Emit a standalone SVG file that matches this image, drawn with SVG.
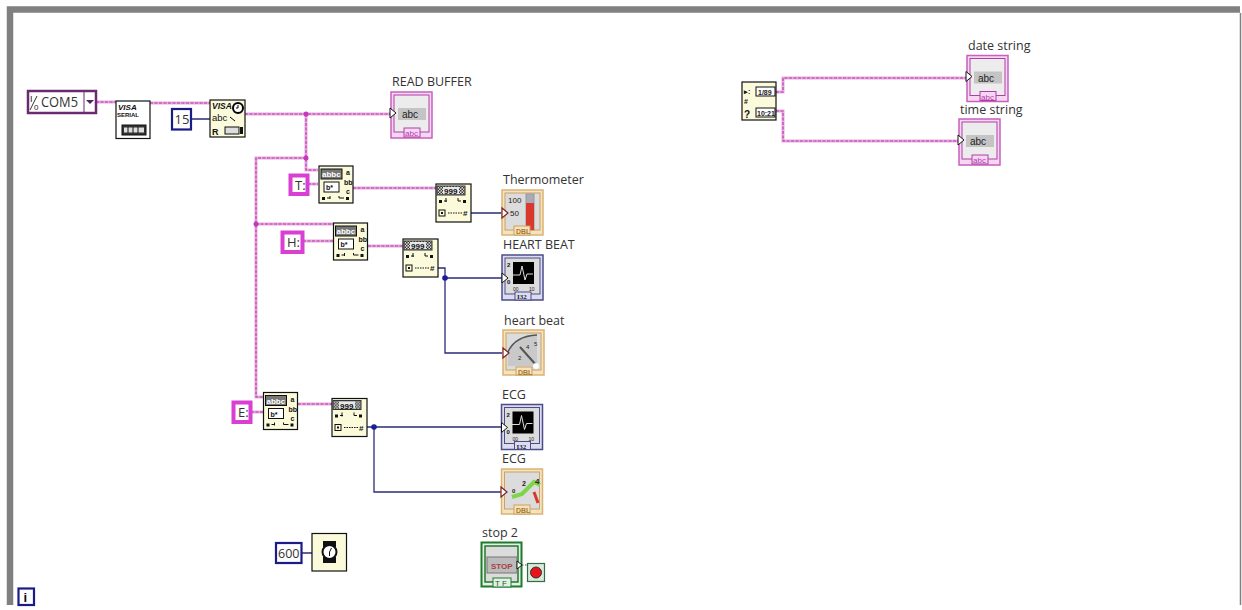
<svg xmlns="http://www.w3.org/2000/svg" width="1242" height="610" viewBox="0 0 1242 610">
<style>
text{font-family:"Liberation Sans",Arial,sans-serif;fill:#222}
.lbl{font-size:12.5px;font-family:"Open Sans","Liberation Sans",sans-serif;fill:#333}
.const{font-size:13px;font-family:"Open Sans","Liberation Sans",sans-serif;fill:#333}
.w{fill:none;stroke:#e9a6e2;stroke-width:3}
.wd{fill:none;stroke:#b03fa4;stroke-width:1.1;stroke-dasharray:3 1.5}
.n{fill:none;stroke:#2b2b78;stroke-width:1.3}
.ic{fill:#fbfbdc;stroke:#111;stroke-width:1.2}
.t6{font-size:6px;font-weight:bold;fill:#111}
.t7{font-size:7px;font-weight:bold;fill:#111}
.t8{font-size:8px;fill:#111}
.dark{fill:#111}
.pk{fill:#fff;stroke:#d93fd2;stroke-width:4}
.nv{fill:#fff;stroke:#1c1c88;stroke-width:2.2}
</style>
<defs>
<pattern id="chk" width="3" height="3" patternUnits="userSpaceOnUse"><rect width="3" height="3" fill="#ddd"/><rect width="1.500" height="1.500" fill="#333"/><rect x="1.500" y="1.500" width="1.500" height="1.500" fill="#333"/></pattern>
<g id="match">
<rect class="ic" x="0" y="0" width="34" height="37"/>
<rect x="2" y="3" width="21" height="10" fill="#777" stroke="#111"/>
<text class="t8" x="3" y="11" style="fill:#fff;font-weight:bold">abbc</text>
<rect x="5" y="16" width="15" height="10" fill="#fff" stroke="#111"/>
<text class="t7" x="7" y="24">b*</text>
<text class="t7" x="27" y="9">a</text><text class="t7" x="25" y="19">bb</text><text class="t7" x="27" y="28">c</text>
<rect class="dark" x="3" y="31" width="3" height="3"/><rect class="dark" x="27" y="31" width="3" height="3"/>
<path d="M8 32h3M11 30v3M20 30v2h5" fill="none" stroke="#111"/>
</g>
<g id="scan">
<rect class="ic" x="0" y="0" width="35" height="38"/>
<rect x="1" y="2" width="28" height="9" fill="url(#chk)" stroke="#333"/>
<rect x="7" y="3" width="16" height="7" fill="#e8e8e8"/>
<text class="t8" x="8" y="10" style="font-weight:bold">999</text>
<rect class="dark" x="3" y="16" width="3" height="3"/><rect class="dark" x="27" y="16" width="3" height="3"/>
<path d="M8 17h3M10 14v4M22 14v3h3" fill="none" stroke="#111"/>
<rect x="3" y="26" width="6" height="6" fill="none" stroke="#111"/><rect class="dark" x="5" y="28" width="2" height="2"/>
<path d="M12 29h14" fill="none" stroke="#111" stroke-dasharray="1.500 1"/>
<text class="t8" x="27" y="32" style="font-weight:bold">#</text>
</g>
<g id="strind">
<rect x="0" y="0" width="41" height="46" fill="#f7d6f3" stroke="#c860bd" stroke-width="1.500"/>
<rect x="3" y="3" width="35" height="37" fill="#ececec" stroke="#b03ea8"/>
<rect x="7" y="16" width="28" height="12" fill="#c4c4c4"/>
<text x="11" y="26" style="font-size:10px;fill:#222">abc</text>
<path d="M-1 16l6 5-6 5z" fill="#fff" stroke="#111"/>
<rect x="13" y="36" width="16" height="9" fill="#f7d6f3" stroke="#b03ea8"/>
<text x="14" y="44" style="font-size:8px;fill:#b03ea8">abc</text>
</g>
<g id="dblframe">
<rect x="0" y="0" width="41" height="45" fill="#f6e2bb" stroke="#d9b377" stroke-width="1.500"/>
<rect x="3" y="3" width="35" height="37" fill="#dcdcdc" stroke="#c8a266"/>
</g>
<g id="chart">
<rect x="0" y="0" width="41" height="45" fill="#dcdcf0" stroke="#4c4c88" stroke-width="1.500"/>
<rect x="3" y="3" width="35" height="36" fill="#dcdcdc" stroke="#4c4c88"/>
<rect x="11" y="7" width="21" height="22" fill="#000"/>
<path d="M8 20h10l2-9 3 14 2-6h6" fill="none" stroke="#ddd"/>
<text x="5" y="12" class="t6">2</text><text x="5" y="29" class="t6">0</text>
<text x="11" y="36" style="font-size:5px">00</text><text x="27" y="36" style="font-size:5px">10</text>
<rect x="13" y="37" width="16" height="8" fill="#dcdcf0" stroke="#4c4c88"/>
<text x="15" y="44" class="t7" style="font-family:'Liberation Serif',serif;fill:#223">I32</text>
<path d="M0 18l6 5-6 5z" fill="#fff" stroke="#111"/>
</g>
</defs>
<rect width="1242" height="610" fill="#fff"/>
<g id="frame">
<path d="M10 605V9.500H1240" fill="none" stroke="#808080" stroke-width="6.500"/>
<path d="M1240.500 13V605" fill="none" stroke="#808080" stroke-width="1.500"/>
</g>
<g id="connectors">
<path class="w" d="M96 102H116M150 103H210M245 114H392M306 114V170H318M306 158H256V397H263M256 224H333M308 184H318M353 188H436M303 241H333M368 246H403M251 412H263M298 404H332M776 92H783V78H967M776 111H783V141H960"/>
<path class="wd" d="M96 102H116M150 103H210M245 114H392M306 114V170H318M306 158H256V397H263M256 224H333M308 184H318M353 188H436M303 241H333M368 246H403M251 412H263M298 404H332M776 92H783V78H967M776 111H783V141H960"/>
<path class="n" d="M191 119H210M471 213H502M438 268H445V353H502M445 278H502M366 427H502M374 427V492H502M302 553H312"/>
<path d="M522 565H527" stroke="#2a6b3a" stroke-dasharray="1.500 1.500" fill="none"/>
<circle cx="306" cy="114" r="2.500" fill="#c838bc"/><circle cx="306" cy="158" r="2.500" fill="#c838bc"/><circle cx="256" cy="224" r="2.500" fill="#c838bc"/>
<circle cx="445" cy="278" r="2.800" fill="#1c1c99"/><circle cx="374" cy="427" r="2.800" fill="#1c1c99"/>
</g>
<g id="com5">
<rect x="28" y="91" width="68" height="22" fill="#fff" stroke="#6b2a70" stroke-width="2.500"/>
<path d="M84 91V113" stroke="#6b2a70"/>
<text x="30" y="102" style="font-size:9px">I</text><text x="34" y="110" style="font-size:8px">0</text>
<path d="M30 110L37 96" stroke="#333"/>
<text class="const" x="41" y="107" style="font-size:14px" textLength="37" lengthAdjust="spacingAndGlyphs">COM5</text>
<path d="M86 100h8l-4 4z" fill="#552060"/>
</g>
<g id="visa-serial">
<rect x="116" y="101" width="34" height="37.500" fill="#fff" stroke="#111" stroke-width="1.200"/>
<text x="118" y="110" style="font-size:8px;font-weight:bold;font-style:italic;fill:#111">VISA</text>
<text x="117" y="117" style="font-size:6px;font-weight:bold;fill:#111">SERIAL</text>
<rect x="122" y="125" width="24" height="10" fill="#333" stroke="#111"/>
<path d="M124 127.500h20v5h-20z" fill="#ddd"/>
<path d="M128 127v6M133 127v6M138 127v6" stroke="#111"/>
</g>
<g id="const-15">
<rect x="172" y="109" width="19" height="20.500" class="nv"/>
<text class="const" x="174.500" y="124">15</text>
</g>
<g id="visa-read">
<rect class="ic" x="210" y="100" width="35" height="37"/>
<text x="212" y="109" style="font-size:8.500px;font-weight:bold;font-style:italic;fill:#111">VISA</text>
<text x="212" y="121" style="font-size:9.500px;fill:#111">abc</text>
<text x="212" y="135" style="font-size:9px;font-weight:bold;fill:#111">R</text>
<circle cx="238" cy="108" r="5" fill="#fff" stroke="#000" stroke-width="2"/>
<path d="M238 105v3h-2M230 117l5 4" stroke="#000" fill="none"/>
<rect x="225" y="127" width="14" height="7" fill="#ddd" stroke="#111"/>
<rect x="240" y="127" width="3" height="7" fill="#111"/>
</g>
<g id="read-buffer">
<text class="lbl" x="392" y="86">READ BUFFER</text>
<use href="#strind" x="391" y="92"/>
</g>
<g id="const-t">
<rect x="290.500" y="175.500" width="17" height="18.500" class="pk"/>
<text class="const" x="295" y="190">T:</text>
</g>
<use id="match-t" href="#match" x="319" y="166"/>
<use id="scan-t" href="#scan" x="436" y="184"/>
<g id="thermometer">
<text class="lbl" x="503" y="184">Thermometer</text>
<use href="#dblframe" x="502" y="190"/>
<text x="508" y="203" style="font-size:8px">100</text><text x="510" y="216" style="font-size:8px">50</text>
<rect x="526" y="194" width="8" height="36" fill="#aab" stroke="#999"/>
<rect x="526" y="203" width="8" height="27" fill="#d8392c"/>
<rect x="514" y="226" width="16" height="9" fill="#f6e2bb" stroke="#c8a266"/>
<text x="516" y="234" style="font-size:7px;fill:#a87a2c;font-weight:bold">DBL</text>
<path d="M502 208l6 5-6 5z" fill="#fff" stroke="#7a2222" stroke-width="1.200"/>
</g>
<g id="const-h">
<rect x="282.500" y="232.500" width="20" height="19.500" class="pk"/>
<text class="const" x="287" y="247">H:</text>
</g>
<use id="match-h" href="#match" x="333.500" y="223"/>
<use id="scan-h" href="#scan" x="403" y="239"/>
<g id="heart-beat-chart">
<text class="lbl" x="503" y="249">HEART BEAT</text>
<use href="#chart" x="502" y="255"/>
</g>
<g id="heart-beat-gauge">
<text class="lbl" x="504" y="325">heart beat</text>
<use href="#dblframe" x="503" y="330"/>
<path d="M508 366V352Q515 336 537 335V366Z" fill="#c9c9c9"/>
<path d="M508 352Q515 336 537 335" fill="none" stroke="#555" stroke-width="1.500"/>
<path d="M520 347L537 366" stroke="#555" stroke-width="2"/>
<circle cx="536" cy="366" r="3" fill="#fff"/>
<text x="518" y="360" style="font-size:6px">2</text><text x="526" y="349" style="font-size:6px">4</text><text x="534" y="346" style="font-size:6px">5</text>
<rect x="516" y="367" width="16" height="8" fill="#f6e2bb" stroke="#c8a266"/>
<text x="518" y="374.500" style="font-size:7px;fill:#a87a2c;font-weight:bold">DBL</text>
<path d="M503 348l6 5-6 5z" fill="#fff" stroke="#7a2222" stroke-width="1.200"/>
</g>
<g id="const-e">
<rect x="233.500" y="402.500" width="17" height="19.500" class="pk"/>
<text class="const" x="238" y="417">E:</text>
</g>
<use id="match-e" href="#match" x="263.500" y="392.500"/>
<use id="scan-e" href="#scan" x="332" y="398.500"/>
<g id="ecg-chart">
<text class="lbl" x="502" y="399">ECG</text>
<use href="#chart" x="501.500" y="404.500"/>
</g>
<g id="ecg-gauge">
<text class="lbl" x="502" y="463">ECG</text>
<use href="#dblframe" x="501.500" y="469"/>
<path d="M512 497L522 494 534 482 540 485" fill="none" stroke="#7fd44a" stroke-width="4"/>
<path d="M534 492L538 503" stroke="#d8392c" stroke-width="3"/>
<text x="512" y="493" style="font-size:6px;font-weight:bold">0</text><text x="522" y="486" style="font-size:7px;font-weight:bold">2</text><text x="535" y="484" style="font-size:8px;font-weight:bold">4</text>
<rect x="514" y="505" width="16" height="9" fill="#f6e2bb" stroke="#c8a266"/>
<text x="516" y="513" style="font-size:7px;fill:#a87a2c;font-weight:bold">DBL</text>
<path d="M501 487l6 5-6 5z" fill="#fff" stroke="#7a2222" stroke-width="1.200"/>
</g>
<g id="const-600">
<rect x="276" y="543" width="25.500" height="20" class="nv"/>
<text class="const" x="278" y="558" textLength="21.500" lengthAdjust="spacingAndGlyphs">600</text>
</g>
<g id="wait">
<rect class="ic" x="312" y="533.500" width="34.500" height="37.500"/>
<rect x="323" y="541" width="13" height="6" fill="#111"/><rect x="323" y="557" width="13" height="6" fill="#111"/>
<circle cx="329.500" cy="552" r="7" fill="#fff" stroke="#111" stroke-width="2"/>
<path d="M329.500 552l2-4M329.500 552v4" stroke="#111"/>
</g>
<g id="stop-2">
<text class="lbl" x="482" y="537">stop 2</text>
<rect x="481.500" y="542.500" width="40" height="44" fill="#e4f0e4" stroke="#1f7a2d" stroke-width="2"/>
<rect x="485" y="546" width="33" height="36" fill="#dcdcdc" stroke="#1f7a2d" stroke-width="1.500"/>
<rect x="487" y="557" width="30" height="16" fill="#bbb" stroke="#777"/>
<text x="491" y="569" style="font-size:8px;font-weight:bold;fill:#a84040">STOP</text>
<rect x="493" y="578" width="18" height="9" fill="#e4f0e4" stroke="#1f7a2d"/>
<text x="495" y="586" style="font-size:8px;fill:#1f5a2d">T F</text>
<path d="M517 561l5 4-5 4z" fill="#fff" stroke="#111"/>
</g>
<g id="stop-terminal">
<rect x="527.500" y="563.500" width="17" height="18" fill="#d8ead8" stroke="#356b45" stroke-width="1.200"/>
<circle cx="536" cy="572.500" r="5.500" fill="#e8141c" stroke="#333"/>
</g>
<g id="iter">
<rect x="18.500" y="588.500" width="15.500" height="16.500" class="nv"/>
<text x="23.500" y="602" style="font-size:13px;font-weight:bold;fill:#111">i</text>
</g>
<g id="get-date-time">
<rect class="ic" x="742" y="82" width="34" height="38"/>
<rect x="756" y="87" width="19" height="9" fill="#fff" stroke="#111"/>
<text x="758" y="94.500" style="font-size:7px;font-weight:bold">1/89</text>
<rect x="756" y="108" width="19" height="9" fill="#fff" stroke="#111"/>
<text x="757" y="115.500" style="font-size:7px;font-weight:bold">10:21</text>
<text x="744" y="94" class="t7">▸:</text><text x="744" y="104" class="t7">#</text><text x="744" y="118" style="font-size:10px;font-weight:bold;fill:#111">?</text>
</g>
<g id="date-string">
<text class="lbl" x="968" y="50">date string</text>
<use href="#strind" x="967" y="55.500"/>
</g>
<g id="time-string">
<text class="lbl" x="960" y="113.500">time string</text>
<use href="#strind" x="959" y="119"/>
</g>
</svg>
